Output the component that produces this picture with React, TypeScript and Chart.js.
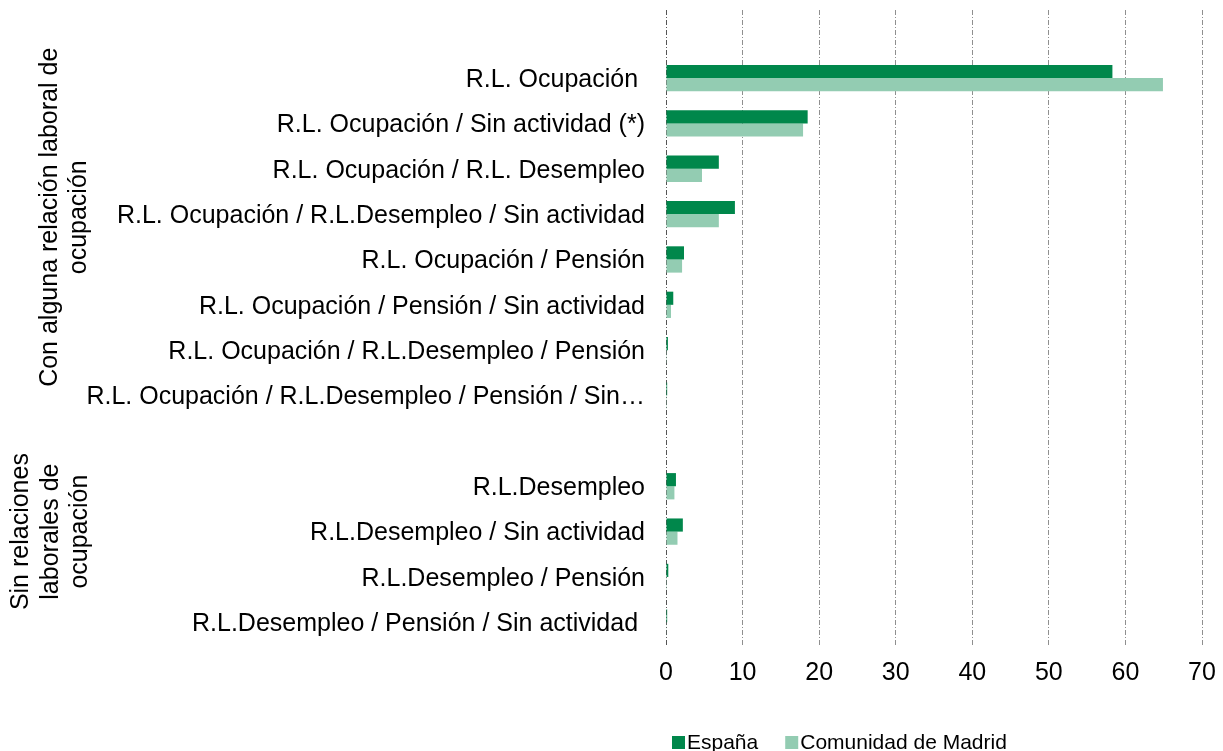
import React, { useEffect, useRef } from "react";
import { Chart, registerables } from "chart.js";

Chart.register(...registerables);

const categories: string[] = [
  "",
  "R.L. Ocupación ",
  "R.L. Ocupación / Sin actividad (*)",
  "R.L. Ocupación / R.L. Desempleo",
  "R.L. Ocupación / R.L.Desempleo / Sin actividad",
  "R.L. Ocupación / Pensión",
  "R.L. Ocupación / Pensión / Sin actividad",
  "R.L. Ocupación / R.L.Desempleo / Pensión",
  "R.L. Ocupación / R.L.Desempleo / Pensión / Sin…",
  "",
  "R.L.Desempleo",
  "R.L.Desempleo / Sin actividad",
  "R.L.Desempleo / Pensión",
  "R.L.Desempleo / Pensión / Sin actividad ",
];

const espana: (number | null)[] = [null, 58.3, 18.5, 6.9, 9.0, 2.35, 0.95, 0.25, 0.15, null, 1.3, 2.2, 0.3, 0.15];
const madrid: (number | null)[] = [null, 64.9, 17.9, 4.7, 6.9, 2.1, 0.65, 0.1, 0.1, null, 1.1, 1.5, 0.1, 0.05];

const seriesNames: string[] = ["España", "Comunidad de Madrid"];
const xTicks: number[] = [0, 10, 20, 30, 40, 50, 60, 70];

const groupLabels: { lines: string[]; at: number }[] = [
  { lines: ["Con alguna relación laboral de", "ocupación"], at: 4.07 },
  { lines: ["Sin relaciones", "laborales de", "ocupación"], at: 11.0 },
];

const FONT = "'Liberation Sans', Arial, sans-serif";
const DARK = "#00874B";
const LIGHT = "#93CCB2";

export default function App() {
  const ref = useRef<HTMLCanvasElement | null>(null);

  useEffect(() => {
    if (!ref.current) return;

    const groupPlugin = {
      id: "groupLabels",
      afterDraw(chart: any) {
        const ctx = chart.ctx as CanvasRenderingContext2D;
        const y = chart.scales.y;
        ctx.save();
        ctx.fillStyle = "#000";
        ctx.font = `25px ${FONT}`;
        ctx.textAlign = "center";
        ctx.textBaseline = "alphabetic";
        const baselines1 = [57, 86];
        const baselines2 = [28, 58, 87];
        groupLabels.forEach((g, gi) => {
          const cy = y.getPixelForValue(g.at);
          const bl = gi === 0 ? baselines1 : baselines2;
          ctx.save();
          ctx.translate(0, cy);
          ctx.rotate(-Math.PI / 2);
          g.lines.forEach((line, i) => {
            ctx.fillText(line, 0, bl[i]);
          });
          ctx.restore();
        });

        // legend
        ctx.font = `21px ${FONT}`;
        ctx.textAlign = "left";
        ctx.textBaseline = "middle";
        let x = 672;
        const ly = 743;
        chart.data.datasets.forEach((ds: any) => {
          ctx.fillStyle = ds.backgroundColor;
          ctx.fillRect(x, ly - 7, 13, 13);
          x += 15;
          ctx.fillStyle = "#000";
          ctx.fillText(ds.label, x, ly);
          x += ctx.measureText(ds.label).width + 27;
        });
        ctx.restore();
      },
    };

    const chart = new Chart(ref.current, {
      type: "bar",
      data: {
        labels: categories,
        datasets: [
          { label: seriesNames[0], data: espana, backgroundColor: DARK, barPercentage: 1, categoryPercentage: 0.58 },
          { label: seriesNames[1], data: madrid, backgroundColor: LIGHT, barPercentage: 1, categoryPercentage: 0.58 },
        ],
      },
      options: {
        indexAxis: "y",
        animation: false,
        responsive: false,
        layout: { padding: { left: 0, right: 21, top: 10, bottom: 0 } },
        plugins: {
          legend: { display: false },
          tooltip: { enabled: false },
          title: { display: false },
        },
        scales: {
          x: {
            type: "linear",
            min: 0,
            max: 70,
            afterBuildTicks: (scale: any) => {
              scale.ticks = xTicks.map((v) => ({ value: v }));
            },
            afterFit: (scale: any) => {
              scale.height = 106;
              scale.paddingLeft = 0;
              scale.paddingRight = 0;
            },
            ticks: {
              font: { family: FONT, size: 25 },
              color: "#000",
              padding: 13,
            },
            grid: {
              drawTicks: false,
              color: (c: any) => (c.tick && c.tick.value === 0 ? "#555" : "#8f8f8f"),
              lineWidth: 1,
            },
            border: { display: false, dash: [5, 2, 1, 2] },
          },
          y: {
            type: "category",
            afterFit: (scale: any) => {
              scale.width = 666;
              scale.paddingTop = 0;
              scale.paddingBottom = 0;
            },
            ticks: {
              font: { family: FONT, size: 25 },
              color: "#000",
              padding: 21,
              labelOffset: 2,
              autoSkip: false,
            },
            grid: { display: false, drawTicks: false },
            border: { display: false },
          },
        },
      },
      plugins: [groupPlugin],
    } as any);

    return () => chart.destroy();
  }, []);

  return (
    <div style={{ position: "fixed", left: 0, top: 0, width: 1223, height: 751, background: "#fff" }}>
      <canvas ref={ref} width={1223} height={751} style={{ display: "block" }} />
    </div>
  );
}
